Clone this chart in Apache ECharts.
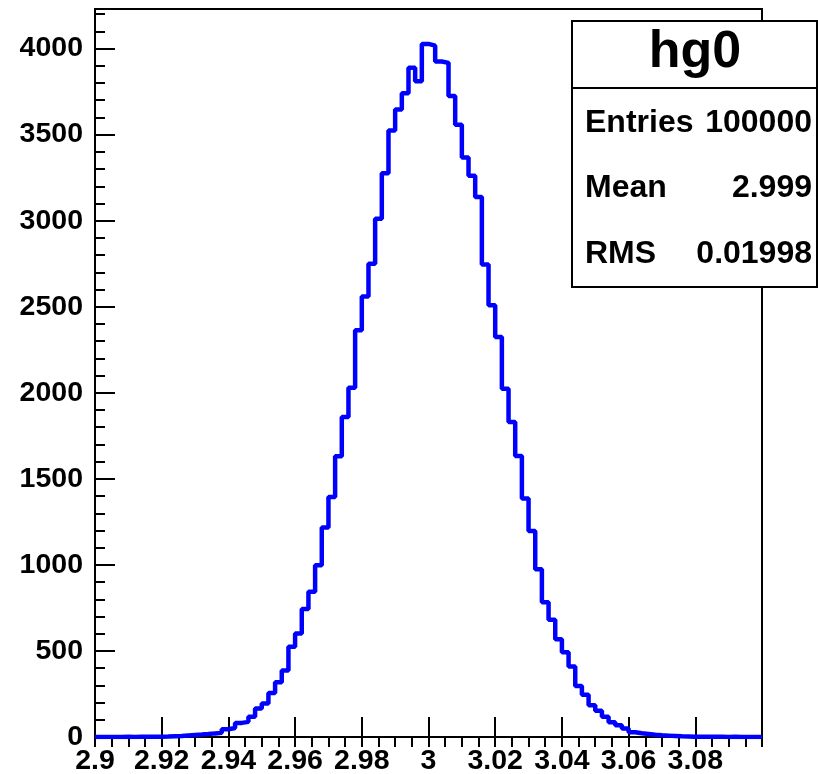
<!DOCTYPE html>
<html>
<head>
<meta charset="utf-8">
<script src="https://cdn.jsdelivr.net/npm/echarts@6.0.0/dist/echarts.min.js"></script>
<style>
html, body { margin: 0; padding: 0; background: #fff; }
#main { width: 818px; height: 774px; }
</style>
</head>
<body>
<div id="main"></div>
<script>
var myChart = echarts.init(document.getElementById('main'));

// histogram hg0 : 100 bins from 2.9 to 3.1
var histName = 'hg0';
var xMin = 2.9, xMax = 3.1, binWidth = 0.002;
var yMax = 4230;
var binValues = [
    0, 0, 0, 0, 1, 0, 1, 1, 2, 2,
    3, 5, 6, 9, 12, 14, 17, 21, 24, 45,
    52, 82, 88, 118, 166, 195, 255, 318, 387, 524,
    602, 744, 844, 998, 1218, 1395, 1631, 1860, 2030, 2363,
    2560, 2750, 3011, 3276, 3524, 3646, 3741, 3888, 3810, 4027,
    4017, 3925, 3917, 3724, 3557, 3367, 3261, 3137, 2746, 2508,
    2324, 2024, 1831, 1633, 1386, 1197, 975, 783, 681, 568,
    493, 410, 297, 246, 184, 153, 118, 86, 68, 50,
    28, 22, 18, 13, 10, 8, 6, 4, 3, 2,
    2, 1, 1, 1, 0, 1, 0, 0, 0, 0
];
var statLabels = ['Entries', 'Mean', 'RMS'];
var statValues = ['100000', '2.999', '0.01998'];

// bin left edges -> step line
var points = binValues.map(function (v, i) {
    return [xMin + i * binWidth, v];
});
points.push([xMax, binValues[binValues.length - 1]]);

var font = 'Liberation Sans';
var tickStyle = { color: '#000', width: 2 };

var statTexts = [];
statLabels.forEach(function (lab, i) {
    var y = 123 + i * 65.5;
    statTexts.push({
        type: 'text', x: 585, y: y, z: 101,
        style: { text: lab, fill: '#000', font: 'bold 32px ' + font, align: 'left', textAlign: 'left', verticalAlign: 'middle', textVerticalAlign: 'middle' }
    });
    statTexts.push({
        type: 'text', x: 812, y: y, z: 101,
        style: { text: statValues[i], fill: '#000', font: 'bold 32px ' + font, align: 'right', textAlign: 'right', verticalAlign: 'middle', textVerticalAlign: 'middle' }
    });
});

myChart.setOption({
    animation: false,
    grid: {
        left: 95, right: 56, top: 9, bottom: 37,
        outerBoundsMode: 'none',
        show: true, borderColor: '#000', borderWidth: 2
    },
    xAxis: [
        {
            type: 'value', min: xMin, max: xMax, interval: 0.02,
            axisLine: { lineStyle: tickStyle },
            axisTick: { inside: true, length: 20, lineStyle: tickStyle },
            splitLine: { show: false },
            axisLabel: {
                margin: 10, color: '#000', fontFamily: font, fontWeight: 'bold', fontSize: 28.5,
                formatter: function (v) {
                    if (v > 3.09) return '';
                    return String(+v.toFixed(2));
                }
            }
        },
        {
            type: 'value', min: xMin, max: xMax, interval: 0.005,
            axisLine: { show: false },
            axisTick: { inside: true, length: 10, lineStyle: tickStyle },
            axisLabel: { show: false },
            splitLine: { show: false }
        }
    ],
    yAxis: [
        {
            type: 'value', min: 0, max: yMax, interval: 500,
            axisLine: { show: true, lineStyle: tickStyle },
            axisTick: { show: true, inside: true, length: 20, lineStyle: tickStyle },
            splitLine: { show: false },
            axisLabel: {
                margin: 12, color: '#000', fontFamily: font, fontWeight: 'bold', fontSize: 28.5,
                formatter: function (v) {
                    return v % 500 === 0 ? String(v) : '';
                }
            }
        },
        {
            type: 'value', min: 0, max: yMax, interval: 100, position: 'left',
            axisLine: { show: false },
            axisTick: { show: true, inside: true, length: 10, lineStyle: tickStyle },
            axisLabel: { show: false },
            splitLine: { show: false }
        }
    ],
    series: [{
        type: 'line',
        name: histName,
        data: points,
        step: 'end',
        symbol: 'none',
        lineStyle: { color: '#0000ff', width: 4.5 },
        z: 3
    }],
    graphic: [
        {
            type: 'rect', z: 100,
            shape: { x: 572, y: 21, width: 245, height: 266 },
            style: { fill: '#fff', stroke: '#000', lineWidth: 2 }
        },
        {
            type: 'line', z: 101,
            shape: { x1: 572, y1: 88, x2: 817, y2: 88 },
            style: { stroke: '#000', lineWidth: 2 }
        },
        {
            type: 'text', x: 695, y: 53, z: 101,
            style: { text: histName, fill: '#000', font: 'bold 52px ' + font, align: 'center', textAlign: 'center', verticalAlign: 'middle', textVerticalAlign: 'middle' }
        }
    ].concat(statTexts)
});
</script>
</body>
</html>
